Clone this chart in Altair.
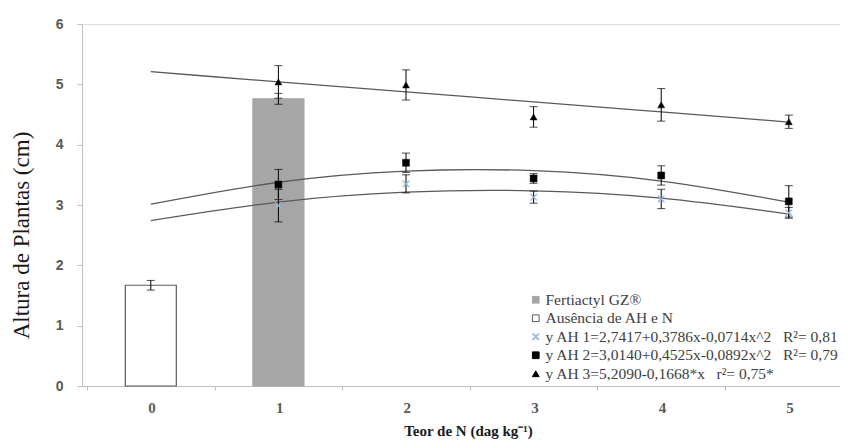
import altair as alt
import pandas as pd

# ---------------- data ----------------
labels = [
    "Fertiactyl GZ®",
    "Ausência de AH e N",
    "y AH 1=2,7417+0,3786x-0,0714x^2\u00a0\u00a0\u00a0R²= 0,81",
    "y AH 2=3,0140+0,4525x-0,0892x^2\u00a0\u00a0\u00a0R²= 0,79",
    "y AH 3=5,2090-0,1668*x\u00a0\u00a0\u00a0r²= 0,75*",
]

bar_x = [0, 1]
bar_y = [1.67, 4.76]
bar_err = [0.08, 0.09]
bar_serie = [labels[1], labels[0]]

pts_x = [1, 2, 3, 4, 5]
ah1_y = [2.99, 3.35, 3.13, 3.10, 2.87]
ah1_err = [0.27, 0.15, 0.10, 0.16, 0.09]
ah2_y = [3.34, 3.70, 3.44, 3.49, 3.06]
ah2_err = [0.25, 0.16, 0.08, 0.16, 0.26]
ah3_y = [5.04, 4.99, 4.46, 4.66, 4.38]
ah3_err = [0.27, 0.25, 0.17, 0.27, 0.11]

fit_x = [0, 1, 2, 3, 4, 5]
fit_ah1 = [2.742, 3.049, 3.213, 3.235, 3.114, 2.850]
fit_ah2 = [3.014, 3.377, 3.562, 3.569, 3.397, 3.047]
fit_ah3 = [5.209, 5.042, 4.875, 4.709, 4.542, 4.375]

x_ticks = [-0.5, 0.5, 1.5, 2.5, 3.5, 4.5]
y_ticks = [0, 1, 2, 3, 4, 5, 6]

# ---------------- tables ----------------
bars = pd.DataFrame({"x": bar_x, "y": bar_y, "serie": bar_serie,
                     "lo": [v - e for v, e in zip(bar_y, bar_err)],
                     "hi": [v + e for v, e in zip(bar_y, bar_err)]})

rows = []
for lab, ys_, es in [(labels[2], ah1_y, ah1_err), (labels[3], ah2_y, ah2_err), (labels[4], ah3_y, ah3_err)]:
    for xv, yv, ev in zip(pts_x, ys_, es):
        rows.append({"x": xv, "y": yv, "lo": yv - ev, "hi": yv + ev, "serie": lab})
pts = pd.DataFrame(rows)

frows = []
for lab, ys_ in [(labels[2], fit_ah1), (labels[3], fit_ah2), (labels[4], fit_ah3)]:
    for xv, yv in zip(fit_x, ys_):
        frows.append({"x": xv, "y": yv, "serie": lab})
fits = pd.DataFrame(frows)

X_PATH = "M-1,-0.8L-0.8,-1L0,-0.2L0.8,-1L1,-0.8L0.2,0L1,0.8L0.8,1L0,0.2L-0.8,1L-1,0.8L-0.2,0Z"

color_scale = alt.Scale(domain=labels, range=["#a6a6a6", "#ffffff", "#95b3d7", "#000000", "#000000"])
stroke_scale = alt.Scale(domain=labels, range=["#a6a6a6", "#595959", "#95b3d7", "#000000", "#000000"])
shape_scale = alt.Scale(domain=labels, range=["square", "square", X_PATH, "square", "triangle-up"])

leg = alt.Legend(
    title=None, orient="none", legendX=446, legendY=268,
    labelFont="Liberation Serif", labelFontSize=15.5, labelColor="#404040",
    labelLimit=500, symbolSize=45, symbolStrokeWidth=1, rowPadding=1.5, labelOffset=2,
    padding=0,
)

xs = alt.Scale(domain=[-0.5, 5.362], nice=False, zero=False)
ys = alt.Scale(domain=[0, 6], nice=False, zero=False)

x_enc = alt.X("x:Q", scale=xs, axis=alt.Axis(
    values=x_ticks, labelExpr="format(datum.value + 0.5, 'd')", labelOffset=64.6,
    title="Teor de N (dag kg⁻¹)", titleFont="Liberation Serif", titleFontSize=15,
    titleFontWeight="bold", titleColor="#1a1a1a", titleX=386, titleY=49,
    titleBaseline="alphabetic",
    labelFont="Liberation Serif", labelFontSize=15, labelFontWeight="bold", labelColor="#595959",
    labelPadding=10, tickSize=4, tickColor="#bfbfbf", domainColor="#bfbfbf", grid=False,
))
y_enc = alt.Y("y:Q", scale=ys, axis=alt.Axis(
    values=y_ticks, format="d",
    title="Altura de Plantas (cm)", titleFont="Liberation Serif", titleFontSize=23,
    titleFontWeight="normal", titleColor="#1a1a1a", titleX=-49, titleY=211,
    labelFont="Liberation Sans", labelFontSize=14, labelFontWeight="bold", labelColor="#595959",
    labelPadding=14, tickSize=5, tickColor="#bfbfbf", domainColor="#bfbfbf", grid=False,
))

bar_layer = alt.Chart(bars).mark_bar(size=51, strokeWidth=1.2).encode(
    x=x_enc, y=y_enc,
    color=alt.Color("serie:N", scale=color_scale, legend=leg),
    stroke=alt.Stroke("serie:N", scale=stroke_scale, legend=leg),
)

def err_layers(df):
    base = alt.Chart(df)
    rule = base.mark_rule(color="#000000", strokeWidth=1).encode(
        x=alt.X("x:Q", scale=xs), y=alt.Y("lo:Q", scale=ys), y2="hi:Q")
    t1 = base.mark_tick(color="#000000", orient="horizontal", size=8, thickness=1).encode(
        x=alt.X("x:Q", scale=xs), y=alt.Y("lo:Q", scale=ys))
    t2 = base.mark_tick(color="#000000", orient="horizontal", size=8, thickness=1).encode(
        x=alt.X("x:Q", scale=xs), y=alt.Y("hi:Q", scale=ys))
    return [rule, t1, t2]

line_layer = alt.Chart(fits).mark_line(color="#595959", strokeWidth=1.3, interpolate="natural").encode(
    x=alt.X("x:Q", scale=xs), y=alt.Y("y:Q", scale=ys), detail="serie:N")

pt_layer = alt.Chart(pts).mark_point(filled=True, opacity=1, size=48, strokeWidth=0.5).encode(
    x=alt.X("x:Q", scale=xs), y=alt.Y("y:Q", scale=ys),
    color=alt.Color("serie:N", scale=color_scale, legend=leg),
    stroke=alt.Stroke("serie:N", scale=stroke_scale, legend=leg),
    shape=alt.Shape("serie:N", scale=shape_scale, legend=leg),
)

chart = alt.layer(
    bar_layer, *err_layers(bars), line_layer, *err_layers(pts), pt_layer
).properties(
    width=758, height=362,
    autosize=alt.AutoSizeParams(type="none"),
    padding={"left": 74, "top": 16, "right": 0, "bottom": 54},
).configure_view(stroke=None).configure(background="white").configure_legend(
    labelFont="Liberation Serif", labelFontSize=15.5, labelColor="#404040", labelLimit=500
).configure_axisX(labelFont="Liberation Serif")

chart.save("out.html", embed_options={"renderer": "svg", "actions": False})
